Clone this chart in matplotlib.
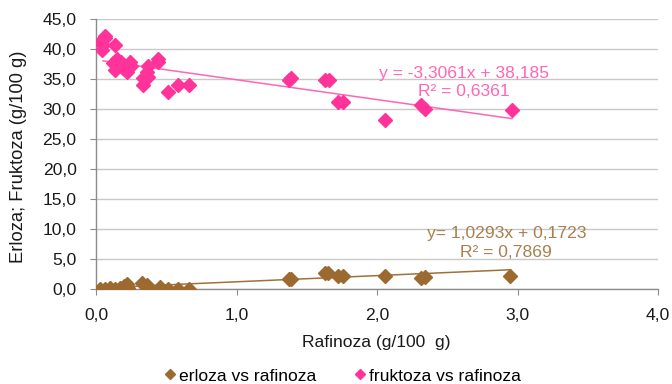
import numpy as np
import matplotlib.pyplot as plt
from matplotlib.ticker import FuncFormatter, MultipleLocator

plt.rcParams['font.family'] = ['Liberation Sans', 'DejaVu Sans']

# rafinoza (x) vs erloza
x_erl = [0.03, 0.065, 0.10, 0.135, 0.17, 0.20, 0.22, 0.23, 0.33, 0.36, 0.38, 0.455,
         0.51, 0.58, 0.66, 1.37, 1.39, 1.63, 1.65, 1.72, 1.76, 2.06, 2.31, 2.34, 2.95]
y_erl = [0.0, 0.0, 0.1, 0.0, 0.2, 0.5, 0.9, 0.2, 0.95, 0.65, 0.2, 0.3,
         0.0, 0.0, 0.0, 1.6, 1.6, 2.6, 2.6, 2.2, 2.2, 2.1, 1.9, 2.0, 2.1]

# rafinoza (x) vs fruktoza
x_fru = [0.03, 0.04, 0.05, 0.065, 0.064, 0.135, 0.12, 0.147, 0.135, 0.18, 0.19, 0.22,
         0.24, 0.25, 0.335, 0.335, 0.36, 0.37, 0.37, 0.44, 0.44, 0.51, 0.58, 0.66,
         1.37, 1.39, 1.63, 1.66, 1.72, 1.76, 2.06, 2.31, 2.34, 2.96]
y_fru = [41.2, 39.8, 40.7, 41.8, 42.2, 40.7, 37.6, 38.4, 36.5, 37.9, 36.8, 36.2,
         37.9, 37.1, 35.2, 34.0, 36.2, 37.1, 35.4, 38.4, 37.9, 32.9, 34.0, 34.0,
         34.9, 35.1, 34.9, 34.9, 31.1, 31.1, 28.1, 30.6, 30.0, 29.9]

# trend line coefficients as printed on the chart
erl_slope, erl_icpt, erl_r2 = 1.0293, 0.1723, 0.7869
fru_slope, fru_icpt, fru_r2 = -3.3061, 38.185, 0.6361

brown = '#9C6A30'
pink = '#FF3399'
fs = 12.6

fig = plt.figure(figsize=(6.72, 3.84), dpi=100)
ax = fig.add_axes([0.1429, 0.2474, 0.8363, 0.7031])

ax.plot(x_erl, y_erl, 'D', color=brown, ms=7, mec=brown, ls='none',
        label='erloza vs rafinoza', zorder=3)
ax.plot(x_fru, y_fru, 'D', color=pink, ms=7, mec=pink, ls='none',
        label='fruktoza vs rafinoza', zorder=3)

xe = np.array([min(x_erl), max(x_erl)])
ax.plot(xe, erl_slope * xe + erl_icpt, color='#A0703A', lw=1.1, zorder=2)
xf = np.array([0.05, max(x_fru)])
ax.plot(xf, fru_slope * xf + fru_icpt, color='#FF66B5', lw=1.1, zorder=2)

ax.text(2.62, 36.0, 'y = -3,3061x + 38,185', color='#FF66B5', fontsize=fs, ha='center', va='center')
ax.text(2.62, 33.0, 'R² = 0,6361', color='#FF66B5', fontsize=fs, ha='center', va='center')
ax.text(2.92, 9.3, 'y= 1,0293x + 0,1723', color='#A8804F', fontsize=fs, ha='center', va='center')
ax.text(2.92, 6.1, 'R² = 0,7869', color='#A8804F', fontsize=fs, ha='center', va='center')

ax.set_xlim(0, 4)
ax.set_ylim(0, 45)
ax.xaxis.set_major_locator(MultipleLocator(1))
ax.yaxis.set_major_locator(MultipleLocator(5))
fmt = FuncFormatter(lambda v, p: f'{v:.1f}'.replace('.', ','))
ax.xaxis.set_major_formatter(fmt)
ax.yaxis.set_major_formatter(fmt)

ax.grid(axis='y', color='#C8C8C8', lw=1.0)
ax.set_axisbelow(True)
for s in ['top', 'right']:
    ax.spines[s].set_visible(False)
for s in ['left', 'bottom']:
    ax.spines[s].set_color('#8C8C8C')
    ax.spines[s].set_linewidth(1.0)
ax.tick_params(axis='both', colors='#8C8C8C', labelcolor='#1A1A1A', labelsize=fs,
               length=4, direction='out')
ax.tick_params(axis='x', pad=10)
ax.tick_params(axis='y', pad=10)

fig.text(0.56, 0.107, 'Rafinoza (g/100  g)', fontsize=fs, ha='center', va='center', color='#1A1A1A')
fig.text(0.027, 0.591, 'Erloza; Fruktoza (g/100 g)', fontsize=13.2, ha='center', va='center',
         rotation=90, color='#1A1A1A')

ax.legend(loc='center', bbox_to_anchor=(0.51, 0.021), bbox_transform=fig.transFigure,
          ncol=2, frameon=False, fontsize=fs, handlelength=0.6, handletextpad=0.2,
          columnspacing=2.2, markerscale=0.7)

fig.savefig('out.png', dpi=100)
